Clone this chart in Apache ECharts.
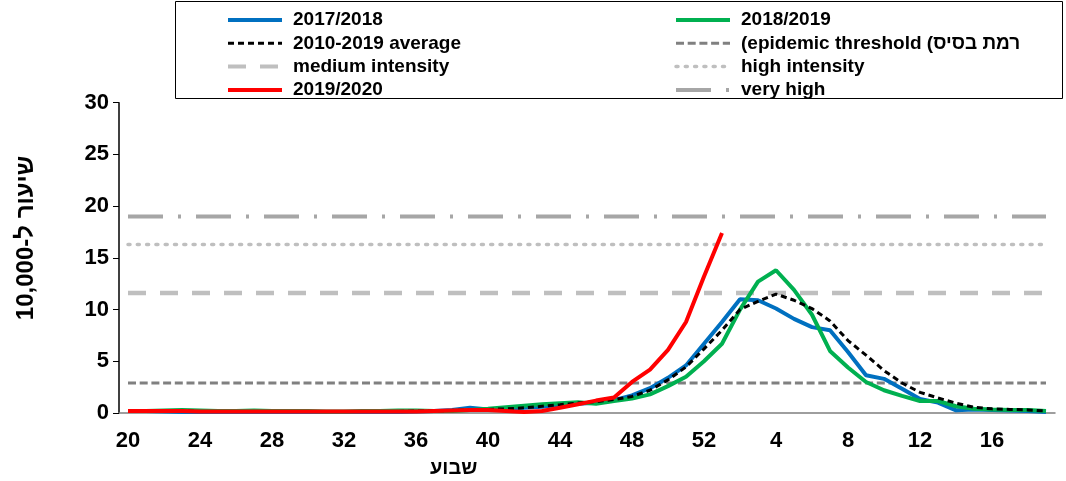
<!DOCTYPE html>
<html>
<head>
<meta charset="utf-8">
<script src="https://cdn.jsdelivr.net/npm/echarts@6/dist/echarts.min.js"></script>
<style>html,body{margin:0;padding:0;background:#fff}#c{width:1066px;height:481px}</style>
</head>
<body>
<div id="c"></div>
<script>
const weeks = [20,21,22,23,24,25,26,27,28,29,30,31,32,33,34,35,36,37,38,39,40,41,42,43,44,45,46,47,48,49,50,51,52,1,2,3,4,5,6,7,8,9,10,11,12,13,14,15,16,17,18,19];
const s2017 = [0.2,0.2,0.15,0.1,0.1,0.1,0.1,0.1,0.1,0.1,0.1,0.1,0.1,0.1,0.1,0.1,0.15,0.2,0.3,0.5,
  0.35,0.4,0.5,0.6,0.75,0.9,1.0,1.25,1.7,2.4,3.4,4.6,6.7,8.8,11.0,10.9,10.1,9.1,8.3,8.0,5.9,3.65,3.3,2.35,1.35,1.0,0.26,0.33,0.3,0.25,0.2,0.1];
const s2018 = [0.2,0.2,0.25,0.3,0.25,0.2,0.2,0.25,0.2,0.2,0.2,0.15,0.15,0.2,0.2,0.25,0.25,0.2,0.2,0.3,
  0.4,0.55,0.7,0.85,0.95,1.05,0.9,1.15,1.4,1.8,2.6,3.5,5.0,6.7,10.0,12.7,13.8,11.9,9.5,6.0,4.4,3.0,2.2,1.65,1.16,1.16,0.65,0.42,0.35,0.3,0.3,0.2];
const avg = [0.2,0.2,0.2,0.2,0.15,0.15,0.15,0.15,0.15,0.15,0.15,0.15,0.15,0.15,0.15,0.15,0.2,0.2,0.25,0.3,
  0.35,0.4,0.5,0.65,0.8,0.97,1.1,1.3,1.6,2.2,3.2,4.45,6.2,8.0,10.0,10.8,11.5,10.9,10.1,8.9,7.0,5.6,4.1,2.9,2.0,1.45,0.95,0.55,0.4,0.35,0.3,0.2];
const s2019 = [0.2,0.2,0.2,0.2,0.15,0.15,0.15,0.15,0.15,0.15,0.15,0.15,0.15,0.15,0.15,0.15,0.15,0.2,0.25,0.3,
  0.3,0.2,0.1,0.2,0.5,0.85,1.2,1.5,3.0,4.2,6.1,8.8,13.2,17.4];
const epidemicLevel = 2.9;
const mediumLevel = 11.6;
const highLevel = 16.3;
const veryHighLevel = 19.0;
const yTicks = {min: 0, max: 30, interval: 5};

const names = {
  a: '2017/2018', b: '2018/2019', avg: '2010-2019 average', thr: '(epidemic threshold (רמת בסיס',
  med: 'medium intensity', high: 'high intensity', red: '2019/2020', vh: 'very high'
};
const yName = '10,000-שיעור ל';
const xName = 'שבוע';
const FONT = '"Liberation Sans", Arial, sans-serif';
const chart = echarts.init(document.getElementById('c'));
const levelSeries = (name, level, color, width, dash, cap) => ({
  name, type: 'line', data: weeks.map(() => level), symbol: 'none', z: 1, silent: true,
  lineStyle: {color, width, type: dash, cap: cap || 'butt'}, itemStyle: {color}
});
const legendText = {fontFamily: FONT, fontWeight: 'bold', fontSize: 19, color: '#000', lineHeight: 20, padding: [0, 0, 0, 6]};
const hid = {opacity: 0};
chart.setOption({
  animation: false,
  grid: {left: 119, right: 11, top: 102.7, bottom: 68, containLabel: false},
  graphic: [
    {type: 'rect', shape: {x: 175.5, y: 1.5, width: 887, height: 97}, style: {fill: 'none', stroke: '#000', lineWidth: 1}, z: 0},
    {type: 'text', left: 430, top: 458, style: {text: xName, font: 'bold 20px ' + FONT, fill: '#000'}},
    {type: 'text', x: 26, y: 238, rotation: Math.PI / 2,
     style: {text: yName, font: 'bold 24px ' + FONT, fill: '#000', align: 'center', verticalAlign: 'middle'}}
  ],
  legend: [
    {orient: 'vertical', left: 226, top: 10, padding: 0, itemWidth: 54, itemHeight: 20, itemGap: 3.3, selectedMode: false,
     textStyle: legendText, itemStyle: hid,
     data: [{name: names.a, lineStyle: {width: 4}}, {name: names.avg, lineStyle: {width: 3}},
            {name: names.med, lineStyle: {width: 4}}, {name: names.red, lineStyle: {width: 4}}]},
    {orient: 'vertical', left: 674, top: 10, padding: 0, itemWidth: 54, itemHeight: 20, itemGap: 3.3, selectedMode: false,
     textStyle: legendText, itemStyle: hid,
     data: [{name: names.b, lineStyle: {width: 4}}, {name: names.thr, lineStyle: {width: 3}},
            {name: names.high, lineStyle: {width: 3.5}}, {name: names.vh, lineStyle: {width: 4}}]}
  ],
  xAxis: {
    type: 'category', data: weeks, boundaryGap: true,
    axisLine: {lineStyle: {color: '#7f7f7f', width: 1.5}},
    axisTick: {interval: 0, length: 5, lineStyle: {color: '#404040'}},
    axisLabel: {interval: 3, fontFamily: FONT, fontWeight: 'bold', fontSize: 22, color: '#000', margin: 17},
    splitLine: {show: false}
  },
  yAxis: {
    type: 'value', min: yTicks.min, max: yTicks.max, interval: yTicks.interval,
    axisLine: {show: true, lineStyle: {color: '#000', width: 1.5}},
    axisTick: {show: true, length: 6, lineStyle: {color: '#000'}},
    axisLabel: {fontFamily: FONT, fontWeight: 'bold', fontSize: 22, color: '#000', margin: 10},
    splitLine: {show: false}
  },
  series: [
    levelSeries(names.vh, veryHighLevel, '#a6a6a6', 4, [35, 15, 3, 15]),
    levelSeries(names.high, highLevel, '#bfbfbf', 3.5, [2, 7.3], 'round'),
    levelSeries(names.med, mediumLevel, '#bfbfbf', 4.5, [18, 14]),
    levelSeries(names.thr, epidemicLevel, '#808080', 3, [8, 3.7]),
    {name: names.a, type: 'line', data: s2017, symbol: 'none', z: 2, lineStyle: {color: '#0070c0', width: 4}, itemStyle: {color: '#0070c0'}},
    {name: names.b, type: 'line', data: s2018, symbol: 'none', z: 2, lineStyle: {color: '#00b050', width: 4}, itemStyle: {color: '#00b050'}},
    {name: names.avg, type: 'line', data: avg, symbol: 'none', z: 3, lineStyle: {color: '#000', width: 3, type: [6, 4]}, itemStyle: {color: '#000'}},
    {name: names.red, type: 'line', data: s2019, symbol: 'none', z: 4, lineStyle: {color: '#ff0000', width: 4}, itemStyle: {color: '#ff0000'}}
  ]
});
</script>
</body>
</html>
